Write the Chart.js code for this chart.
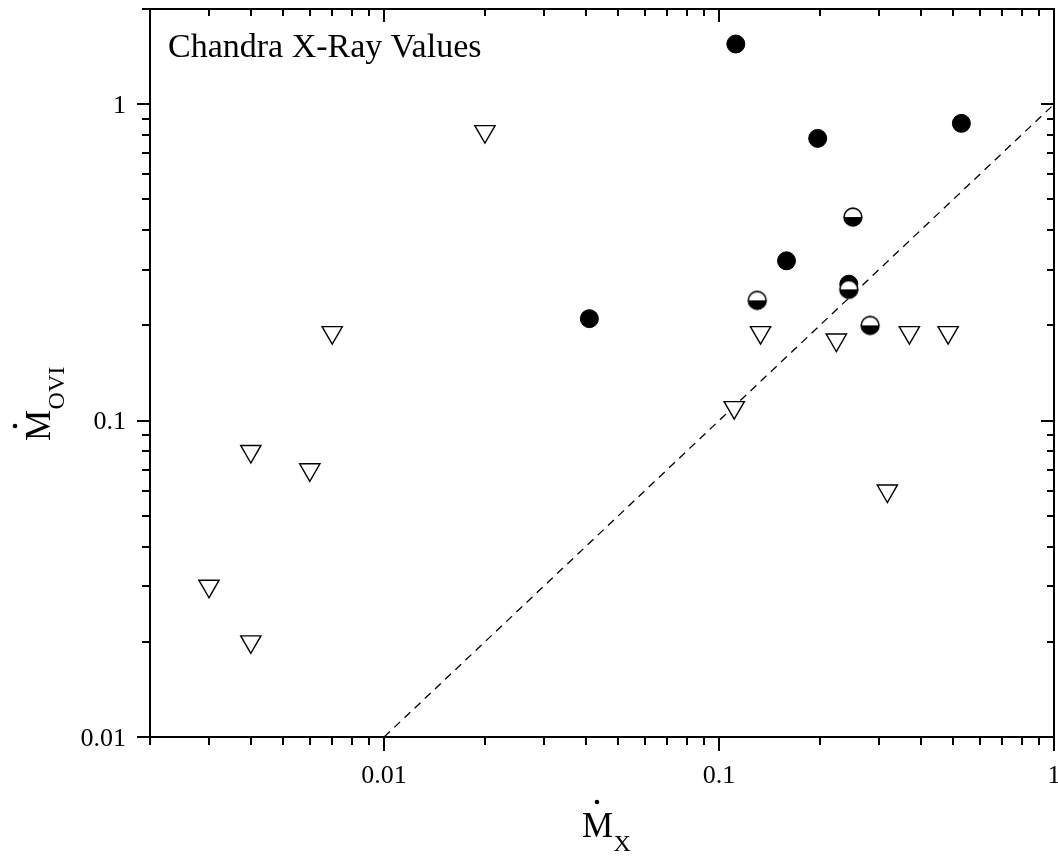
<!DOCTYPE html>
<html><head><meta charset="utf-8">
<script src="https://cdn.jsdelivr.net/npm/chart.js@4.4.0/dist/chart.umd.min.js"></script>
<style>html,body{margin:0;padding:0;background:#fff}#wrap{width:1058px;height:858px;position:relative}</style>
</head><body><div id="wrap"><canvas id="c" width="1058" height="858"></canvas></div>
<script>
// ---- data ----
const filledX = [0.1122, 0.197, 0.529, 0.041, 0.159, 0.244];
const filledY = [1.55, 0.78, 0.87, 0.21, 0.32, 0.27];
const halfX = [0.251, 0.13, 0.244, 0.2825];
const halfY = [0.44, 0.24, 0.26, 0.20];
const limitX = [0.02, 0.007, 0.004, 0.006, 0.003, 0.004, 0.111, 0.133, 0.224, 0.37, 0.483, 0.318];
const limitY = [0.82, 0.19, 0.08, 0.07, 0.03, 0.02, 0.11, 0.19, 0.18, 0.19, 0.19, 0.06];
const lineX = [0.01, 1];
const lineY = [0.01, 1];
const xTickLabels = ['0.01', '0.1', '1'];
const yTickLabels = ['0.01', '0.1', '1'];
const panelLabel = 'Chandra X-Ray Values';
const xTitleMain = 'M', xTitleSub = 'X';
const yTitleMain = 'M', yTitleSub = 'OVI';

const FONT = '"Liberation Serif", "Times New Roman", serif';
const toPts = (xs, ys) => xs.map((x, i) => ({x: x, y: ys[i]}));

function makeHalf(r, lw) {
  const s = Math.ceil(2 * r + lw + 2);
  const c = document.createElement('canvas'); c.width = s; c.height = s;
  const g = c.getContext('2d'); const cx = s / 2, cy = s / 2;
  g.fillStyle = '#fff'; g.beginPath(); g.arc(cx, cy, r, 0, 2 * Math.PI); g.fill();
  g.fillStyle = '#000'; g.beginPath(); g.arc(cx, cy, r, 0, Math.PI); g.closePath(); g.fill();
  g.lineWidth = lw; g.strokeStyle = '#000'; g.beginPath(); g.arc(cx, cy, r, 0, 2 * Math.PI); g.stroke();
  return c;
}

function logTicks(min, max) {
  const out = [];
  for (let e = Math.floor(Math.log10(min)); e <= Math.ceil(Math.log10(max)); e++) {
    for (let m = 1; m < 10; m++) {
      const v = m * Math.pow(10, e);
      if (v >= min * 0.999 && v <= max * 1.001) out.push({v: v, major: m === 1});
    }
  }
  return out;
}

function drawMdot(ctx, x, y, main, sub, big, small) {
  ctx.font = big + 'px ' + FONT;
  ctx.textAlign = 'left'; ctx.textBaseline = 'alphabetic';
  const w = ctx.measureText(main).width;
  ctx.fillText(main, x, y);
  ctx.beginPath(); ctx.arc(x + w * 0.48, y - 35, 2.3, 0, 2 * Math.PI); ctx.fill();
  ctx.font = small + 'px ' + FONT;
  ctx.fillText(sub, x + w + 0.5, y + 14);
}

const framePlugin = {
  id: 'frame',
  afterDraw(chart) {
    const {ctx, chartArea: a, scales: {x, y}} = chart;
    ctx.save();
    ctx.strokeStyle = '#000'; ctx.fillStyle = '#000'; ctx.lineWidth = 2; ctx.lineCap = 'butt';
    ctx.strokeRect(a.left, a.top, a.right - a.left, a.bottom - a.top);
    const seg = (x1, y1, x2, y2) => { ctx.beginPath(); ctx.moveTo(x1, y1); ctx.lineTo(x2, y2); ctx.stroke(); };
    logTicks(x.min, x.max).forEach(t => {
      const px = Math.round(x.getPixelForValue(t.v));
      seg(px, a.bottom, px, a.bottom + (t.major ? 14 : 8));
      seg(px, a.top, px, a.top + (t.major ? 13 : 7));
    });
    logTicks(y.min, y.max).forEach(t => {
      const py = Math.round(y.getPixelForValue(t.v));
      seg(a.left, py, a.left - (t.major ? 13 : 8), py);
      seg(a.right, py, a.right - (t.major ? 13 : 7), py);
    });
    // tick labels via the scales
    ctx.font = '26px ' + FONT; ctx.textBaseline = 'alphabetic';
    ctx.textAlign = 'center';
    xTickLabels.forEach(s => { ctx.fillText(s, x.getPixelForValue(parseFloat(s)), a.bottom + 45.5); });
    ctx.textAlign = 'right';
    yTickLabels.forEach(s => { ctx.fillText(s, a.left - 24, y.getPixelForValue(parseFloat(s)) + 8.5); });
    // panel label
    ctx.font = '34px ' + FONT; ctx.textAlign = 'left';
    ctx.fillText(panelLabel, 168, 57);
    // x title
    drawMdot(ctx, 582, 837, xTitleMain, xTitleSub, 35, 24);
    // y title
    ctx.save(); ctx.translate(50, 441); ctx.rotate(-Math.PI / 2);
    drawMdot(ctx, 0, 0, yTitleMain, yTitleSub, 35, 24);
    ctx.restore();
    ctx.restore();
  }
};

new Chart(document.getElementById('c'), {
  type: 'scatter',
  data: {
    datasets: [
      {label: 'Mx = Movi', type: 'line', showLine: true, data: toPts(lineX, lineY),
       borderColor: '#000', borderWidth: 1.3, borderDash: [8, 6], pointRadius: 0, fill: false, order: 10},
      {label: 'detected', data: toPts(filledX, filledY), pointStyle: 'circle', pointRadius: 9,
       pointBackgroundColor: '#000', pointBorderColor: '#000', pointBorderWidth: 1, order: 3},
      {label: 'half', data: toPts(halfX, halfY), pointStyle: makeHalf(8.9, 1.6), pointRadius: 10, order: 2},
      {label: 'upper limits', data: toPts(limitX, limitY), pointStyle: 'triangle', pointRotation: 180,
       pointRadius: 11.7, pointBackgroundColor: '#fff', pointBorderColor: '#000', pointBorderWidth: 1.4, order: 1}
    ]
  },
  options: {
    responsive: false, animation: false, devicePixelRatio: 1,
    layout: {autoPadding: false, padding: {top: 9, right: 4, left: 0, bottom: 0}},
    plugins: {legend: {display: false}, tooltip: {enabled: false}},
    scales: {
      x: {type: 'logarithmic', position: 'bottom', min: 0.002, max: 1,
          grid: {display: false, drawTicks: false}, border: {display: false},
          ticks: {display: false},
          afterFit(s) { s.height = 121; s.paddingLeft = 0; s.paddingRight = 0; }},
      y: {type: 'logarithmic', position: 'left', min: 0.01, max: 2,
          grid: {display: false, drawTicks: false}, border: {display: false},
          ticks: {display: false},
          afterFit(s) { s.width = 150; s.paddingTop = 0; s.paddingBottom = 0; }}
    }
  },
  plugins: [framePlugin]
});
</script>
</body></html>
